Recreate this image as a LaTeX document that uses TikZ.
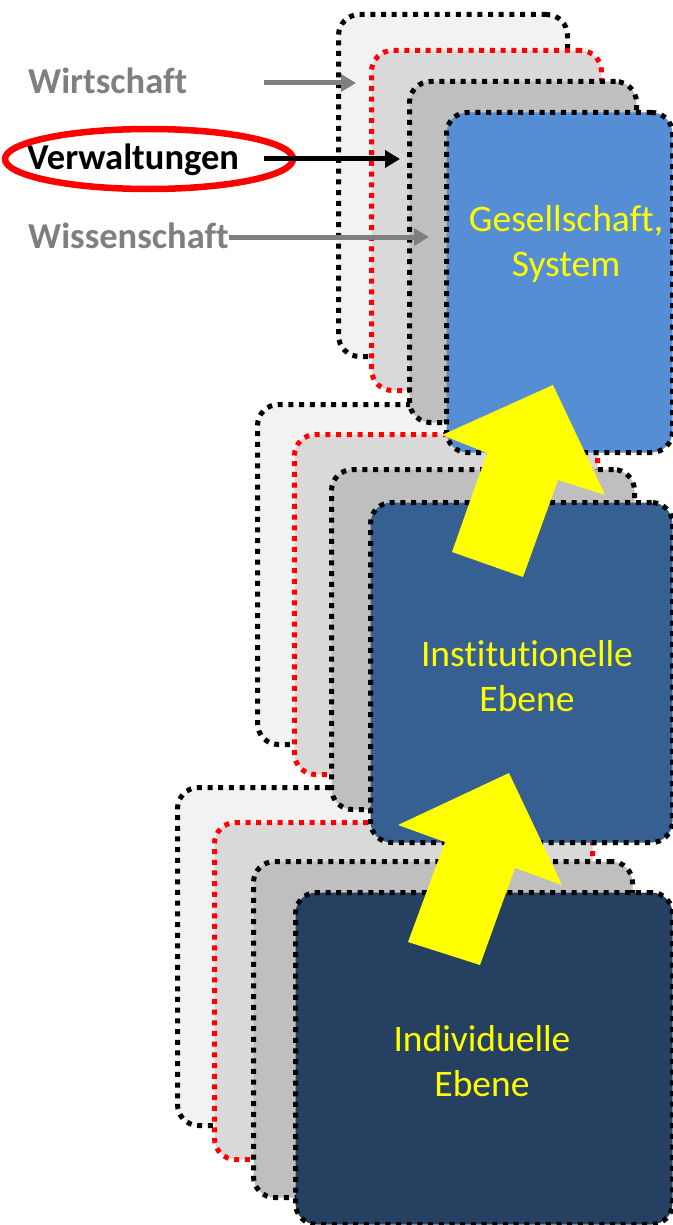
\documentclass[tikz,border=0pt]{standalone}
\usepackage{fontspec}
\setmainfont{Carlito}[Ligatures=NoCommon]
\usetikzlibrary{arrows.meta,shapes.geometric}
\definecolor{lay1}{HTML}{F2F2F2}
\definecolor{lay2}{HTML}{D9D9D9}
\definecolor{lay3}{HTML}{BFBFBF}
\definecolor{topblue}{HTML}{558ED5}
\definecolor{midblue}{HTML}{376092}
\definecolor{lowblue}{HTML}{254061}
\definecolor{labgray}{HTML}{7F7F7F}
\definecolor{yel}{HTML}{FFFF00}
\tikzset{
  layer/.style={rectangle, rounded corners=21pt, inner sep=0pt, anchor=north west,
    line width=5pt, dash pattern=on 5pt off 5.7pt},
  lone/.style={layer, fill=lay1, draw=black},
  ltwo/.style={layer, fill=lay2, draw=red},
  lthree/.style={layer, fill=lay3, draw=black},
  lfour/.style={layer, draw=black},
  boxtext/.style={font=\fontsize{37.5}{45}\selectfont, text=yel, align=center, inner sep=0pt},
  labtext/.style={font=\fontsize{36.5}{42}\selectfont\bfseries, inner sep=0pt, anchor=base west},
  grayarrow/.style={draw=labgray, line width=5pt, -{Triangle[length=15pt,width=17pt]}},
  blackarrow/.style={draw=black, line width=5pt, -{Triangle[length=15pt,width=17pt]}},
  bigarrow/.style={fill=yel}
}
\begin{document}
\begin{tikzpicture}[x=1pt,y=-1pt]
\useasboundingbox (0,0) rectangle (672,1225);
% bottom group
\node[lone, minimum width=377pt, minimum height=338pt] (c1) at (175,785) {};
\node[ltwo, minimum width=378pt, minimum height=337pt] (c2) at (212,820) {};
\node[lthree, minimum width=379pt, minimum height=336pt] (c3) at (251,859) {};
\node[lfour, fill=lowblue, minimum width=377pt, minimum height=332pt] (c4) at (293,890) {};
% middle group
\node[lone, minimum width=303pt, minimum height=340pt] (b1) at (255,402) {};
\node[ltwo, minimum width=303pt, minimum height=340pt] (b2) at (292,432) {};
\node[lthree, minimum width=303pt, minimum height=340pt] (b3) at (329,467) {};
\node[lfour, fill=midblue, minimum width=302pt, minimum height=340pt] (b4) at (368,500) {};
% top group
\node[lone, minimum width=229pt, minimum height=342pt] (a1) at (336,12) {};
\node[ltwo, minimum width=230pt, minimum height=340pt] (a2) at (369,48) {};
\node[lthree, minimum width=227pt, minimum height=341pt] (a3) at (407,79) {};
\node[lfour, fill=topblue, minimum width=226pt, minimum height=340pt] (a4) at (444,110) {};
% box texts
\node[boxtext] (ta) at (566,244) {Gesellschaft,\\System};
\node[boxtext] (tb) at (527,676) {Institutionelle\\Ebene};
\node[boxtext] (tc) at (482,1061) {Individuelle\\Ebene};
% yellow block arrows
\fill[bigarrow] (523,577) -- (558,480) -- (605,495) -- (553,385) -- (442,435) -- (487,453) -- (452,552) -- cycle;
\fill[bigarrow] (480,965) -- (515,868) -- (562,885) -- (509,773) -- (398,825) -- (445,842) -- (408,942) -- cycle;
% labels
\node[labtext, text=labgray] (lw) at (28,94) {Wirtschaft};
\node[labtext, text=black] (lv) at (27,170) {Verwaltungen};
\node[labtext, text=labgray] (lwi) at (28,248) {Wissenschaft};
\node[draw=red, line width=6.5pt, ellipse, minimum width=288pt, minimum height=60pt, inner sep=0pt] (ell) at (149,159) {};
% connectors
\coordinate (wstart) at (264,83);
\coordinate (wend) at (356,83);
\coordinate (vstart) at (264,159);
\coordinate (vend) at (400,159);
\coordinate (wiend) at (429,237);
\draw[grayarrow] (wstart) -- (wend);
\draw[blackarrow] (vstart) -- (vend);
\draw[grayarrow] (lwi.east |- wiend) -- (wiend);
\end{tikzpicture}
\end{document}
